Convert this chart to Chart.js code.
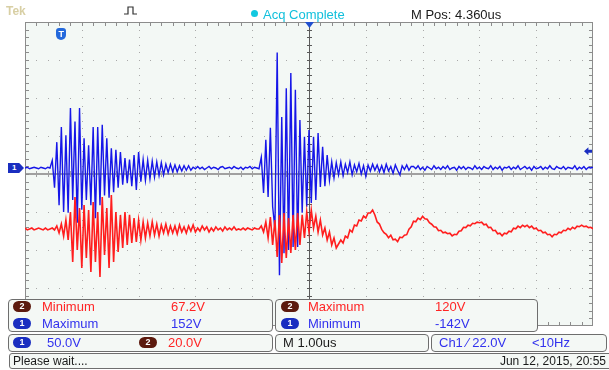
<!DOCTYPE html>
<html>
<head>
<meta charset="utf-8">
<script src="https://cdn.jsdelivr.net/npm/chart.js@4.4.1/dist/chart.umd.min.js"></script>
<style>
  html, body { margin: 0; padding: 0; background: #fff; }
  #scope { position: relative; width: 609px; height: 370px; overflow: hidden;
    font-family: "Liberation Sans", Arial, sans-serif; }
  #scope canvas { position: absolute; left: 0; top: 0; }
  .t { position: absolute; white-space: nowrap; line-height: 1; font-size: 13px; }
  .box { position: absolute; background: #f4f8f5; border: 1px solid #6e6e6e; border-radius: 4px; box-sizing: border-box; }
  .badge { position: absolute; width: 18px; height: 11px; border-radius: 6px; color: #fff;
    font: bold 9px/11px "Liberation Sans", Arial, sans-serif; text-align: center; }
  .c1 { background: #1a2ec0; }
  .c2 { background: #5c1a0e; }
  .red { color: #ff2424; }
  .blue { color: #3232ee; }
  .blk { color: #1a1a1a; }
  #trigMark { position: absolute; width: 10px; height: 12px; background: #2469dc; color: #fff;
    border-radius: 3px 3px 5px 5px; font: bold 9px/12px "Liberation Sans", Arial, sans-serif; text-align: center; }
  #ch1Gnd { position: absolute; width: 16px; height: 10px; background: #1a2ec0; color: #fff;
    clip-path: polygon(0 0, 70% 0, 100% 50%, 70% 100%, 0 100%);
    font: bold 8px/10px "Liberation Sans", Arial, sans-serif; text-indent: 4px; }
  #ch1Lvl { position: absolute; width: 8px; height: 8px; background: #1a2ec0;
    clip-path: polygon(0 50%, 55% 0, 55% 30%, 100% 30%, 100% 70%, 55% 70%, 55% 100%); }
  #expMark { position: absolute; left: 305px; top: 22px; width: 9px; height: 6px; background: #2050d0;
    clip-path: polygon(0 0, 100% 0, 50% 100%); }
</style>
</head>
<body>
<div id="scope">
  <canvas id="scopeCanvas" width="609" height="370"></canvas>

  <div class="t" style="left:6px;top:5px;color:#d8cfa4;font-weight:bold;font-size:12px;">Tek</div>
  <svg style="position:absolute;left:123px;top:4px" width="16" height="12">
    <polyline points="1,10 5,10 5,3 10,3 10,10 14,10" fill="none" stroke="#333" stroke-width="1.2"/>
  </svg>
  <div style="position:absolute;left:251px;top:10px;width:7px;height:7px;border-radius:50%;background:#12c8e0;"></div>
  <div class="t" style="left:263px;top:8px;color:#12c0dc;">Acq Complete</div>
  <div class="t blk" style="left:411px;top:8px;">M Pos: 4.360us</div>

  <div id="expMark"></div>
  <div id="trigMark">T</div>
  <div id="ch1Gnd">1</div>
  <div id="ch1Lvl"></div>

  <div class="box" style="left:8px;top:299px;width:265px;height:33px;"></div>
  <div class="box" style="left:275px;top:299px;width:263px;height:33px;"></div>
  <div class="badge c2" style="left:13px;top:301px;">2</div>
  <div class="t red" style="left:42px;top:300px;">Minimum</div>
  <div class="t red" style="left:171px;top:300px;">67.2V</div>
  <div class="badge c1" style="left:13px;top:318px;">1</div>
  <div class="t blue" style="left:42px;top:317px;">Maximum</div>
  <div class="t blue" style="left:171px;top:317px;">152V</div>
  <div class="badge c2" style="left:281px;top:301px;">2</div>
  <div class="t red" style="left:308px;top:300px;">Maximum</div>
  <div class="t red" style="left:435px;top:300px;">120V</div>
  <div class="badge c1" style="left:281px;top:318px;">1</div>
  <div class="t blue" style="left:308px;top:317px;">Minimum</div>
  <div class="t blue" style="left:435px;top:317px;">-142V</div>

  <div class="box" style="left:8px;top:334px;width:265px;height:18px;"></div>
  <div class="box" style="left:275px;top:334px;width:154px;height:18px;"></div>
  <div class="box" style="left:431px;top:334px;width:176px;height:18px;"></div>
  <div class="badge c1" style="left:13px;top:337px;">1</div>
  <div class="t blue" style="left:47px;top:336px;">50.0V</div>
  <div class="badge c2" style="left:139px;top:337px;">2</div>
  <div class="t red" style="left:168px;top:336px;">20.0V</div>
  <div class="t blk" style="left:283px;top:336px;">M 1.00us</div>
  <div class="t blue" style="left:439px;top:336px;">Ch1 &#8260; 22.0V</div>
  <div class="t blue" style="left:532px;top:336px;">&lt;10Hz</div>

  <div class="box" style="left:9px;top:353px;width:606px;height:16px;border-radius:3px;"></div>
  <div class="t blk" style="left:13px;top:355px;font-size:12px;">Please wait....</div>
  <div class="t blk" style="right:3px;top:355px;font-size:12px;">Jun 12, 2015, 20:55</div>
</div>

<script>
// sampling: one value every 0.04 us, first sample at -0.64 us (trigger = 0)
const sampleStartUs = -0.64;
const sampleStepUs = 0.04;

// channel 1, volts (50 V/div)
const ch1Volts = [
  0, 1, -1, 0, 1, 0, -1, 1, 0, -1, 1, 0,
  10, -26, 34, -49, 54, -58, 43, -59, 79, -42, 61, -72, 79, -55, 39, -42, 30, -49, 54, -66,
  54, -49, 57, -36, 39, -39, 26, -32, 24, -26, 21, -22, 13, -20, 11, -24, 17, -29, 21, -18,
  11, -16, 10, -14,
  9, -12, 8, -10, 7, -9, 5, -6, 5, -5, 4, -5, 3, -4, 3, -3, 3, -3, 1, -1,
  2, -1, 1, -2, 0, 2, -1, 1, 0, -2, 1, 2, -1, 0, 1, -1, 2, 0, -1, 1, -2, 1, 0, 2, -1, 1, 0, -1,
  14, -33, 37, -38, 53, -51, -80, 152, -141, 67, -112, 105, -108, 125, -104, 103, -104, 63,
  -59, 41, -51, 50, -46, 41, -42, 46, -25, 28, -24, 17, -16, 8, -13, 7, -9, 8, -10, 5, -6,
  8, -9, 4, -5, 6, -8, 3, -11, 4, -4, 5, -3, 4, -5,
  3, -6, 5, -4, 2, -7, 4, -3, -9, 3, -2, 4, -3, 2,
  2, -1, 3, -2, 1, -3, 2, 0, -2, 3, -1, 1, -2, 2, -1, 3, -2, 0, 1, -3,
  2, -1, 2, -2, 1, 0, -2, 3, -1, 1, -2, 2, 0, -1, 3, -2, 1, -1, 2, -3,
  1, 0, 2, -2, 1, -1, 3, -2, 0, 2, -1, 1, -3, 2, -1, 0, 2, -2, 1, -1,
  3, -1, -2, 2, 0, -1, 2, -2, 1, 0, -1, 3, -2, 1, -1, 2, -2, 1, 0, 1
];

// channel 2, volts (20 V/div)
const ch2Volts = [
  0.5, -0.5, 0, 0.5, -0.5, 0, 0.5, 0, -0.5, 0.5, -0.5, 0, 0.5, -0.5,
  1.6, -2.1, 2.6, -3.7, 4.7, -5.8, 8.9, -17.4, 16.8, -11, 11, -20.5, 12.6, -15.3, 10, -22.6,
  14.2, -17.4, 8.9, -25.2, 16.8, -13.7, 11, -20.5, 17.9, -17.4, 8.9, -12.1, 7.4, -10, 8.9, -8.4,
  7.4, -7.4, 5.8, -6.8, 4.7, -5.8, 3.7, -4.7, 3.2, -3.7, 3.7, -3.2, 2.6, -3.7, 2.1, -2.1,
  2.6, -2.6, 1.6, -2.1,
  1.6, -2.6, 2.1, -1.6, 1.1, -2.1, 1.6, -1.1, 2.1, -1.6, 0.5, -1.1, 1.6, -0.5, 1.1, -1.6,
  0.5, -1.1, 1.1, -0.5, 0.5, -1.1, 1.1, -0.5, 0.5, -0.5, 1.1, -0.5, 0, -0.5, 0.5, -0.5,
  0.5, 0, -0.5, 0.5, 0,
  0, 1.6, -1.6, 3.7, -4.7, 6.3, -8.4, 4.7, -14.7, 7.4, -17.9, 8.4, -15.3, 5.8, -12.6, 7.4,
  -11, 8.4, -8.4, 7.4, -4.7, 8.9, -1.6, 10, 0.5, 6.8, -1.6, 4.7, -3.2, 0.5, -5.8, -1.6,
  -8.4, -4.7, -10, -7.9, -5.8, -7.4, -3.7, -4.7, -0.5, -1.6, 2.1, 1.6, 4.7, 4.2, 6.8, 5.8,
  8.4, 8.4, 10, 7.4, 3.7, 2.6,
  -0.2, -1.9, -2.8, -4.6, -3.3, -5.7, -5.4, -6.7, -4.3, -4.6,
  -3.3, -3.0, -0.1, 1.2, 4.1, 3.8, 5.7, 4.9, 6.7, 5.4,
  5.1, 3.3, 2.5, 1.2, 0.9, -0.9, -0.7, -2.0, -1.7, -2.5,
  -2.2, -3.6, -2.8, -3.0, -1.2, -0.9, 0.9, 0.7, 2.0, 1.7,
  3.0, 2.8, 3.6, 3.3, 3.6, 2.2, 2.5, 0.7, 0.9, -0.9,
  -0.7, -2.5, -2.2, -3.6, -2.2, -2.5, -1.2, -1.5, 0.4, 0.1,
  1.5, 0.7, 2.0, 1.2, 2.0, 0.7, 1.5, 0.1, 0.4, -0.9,
  -0.7, -2.0, -1.7, -3.0, -2.8, -4.1, -2.8, -3.0, -1.7, -2.0,
  -0.7, -0.9, 0.4, -0.4, 0.9, 0.1, 1.5, 1.2, 2.0, 1.2,
  1.5, 0.7, 0.9, 0.1
];

// vertical settings: volts per division and ground offset from centre (divisions)
const ch1VoltsPerDiv = 50, ch1OffsetDiv = 0.158;
const ch2VoltsPerDiv = 20, ch2OffsetDiv = -1.447;
const ch1TriggerVolts = 22;
const horizontalPosUs = 4.36, usPerDiv = 1;

function toPoints(values) {
  return values.map(function (v, i) {
    return { x: sampleStartUs + i * sampleStepUs, y: v };
  });
}

var graticule = {
  id: 'graticule',
  beforeDatasetsDraw: function (chart) {
    var ctx = chart.ctx, a = chart.chartArea;
    var w = a.right - a.left, h = a.bottom - a.top;
    var dx = w / 10, dy = h / 8;
    ctx.save();
    ctx.fillStyle = '#f3f8f5';
    ctx.fillRect(a.left, a.top, w, h);

    ctx.fillStyle = '#a9a9a9';
    for (var k = 1; k < 10; k++) {
      if (k === 5) continue;
      var gx = Math.round(a.left + k * dx);
      for (var j = 1; j < 40; j++) ctx.fillRect(gx, Math.round(a.top + j * dy / 5), 1, 1);
    }
    for (var k2 = 1; k2 < 8; k2++) {
      if (k2 === 4) continue;
      var gy = Math.round(a.top + k2 * dy);
      for (var j2 = 1; j2 < 50; j2++) ctx.fillRect(Math.round(a.left + j2 * dx / 5), gy, 1, 1);
    }

    var cx = Math.round(a.left + 5 * dx), cy = Math.round(a.top + 4 * dy);
    ctx.fillStyle = '#a0a0a0';
    ctx.fillRect(a.left, cy - 1, w, 2);
    for (var m = 1; m < 50; m++) ctx.fillRect(Math.round(a.left + m * dx / 5), cy - 3, 1, 6);
    ctx.fillStyle = '#5a5a5a';
    ctx.fillRect(cx, a.top, 1, h);
    for (var n = 1; n < 40; n++) ctx.fillRect(cx - 2, Math.round(a.top + n * dy / 5), 5, 1);

    ctx.fillStyle = '#8c8c8c';
    ctx.fillRect(a.left, a.top, w, 1);
    ctx.fillRect(a.left, a.bottom - 1, w, 1);
    ctx.fillRect(a.left, a.top, 1, h);
    ctx.fillRect(a.right - 1, a.top, 1, h);
    for (var p = 1; p < 50; p++) {
      var tx = Math.round(a.left + p * dx / 5);
      ctx.fillRect(tx, a.top, 1, 4);
      ctx.fillRect(tx, a.bottom - 4, 1, 4);
    }
    for (var q = 1; q < 40; q++) {
      var ty = Math.round(a.top + q * dy / 5);
      ctx.fillRect(a.left, ty, 4, 1);
      ctx.fillRect(a.right - 4, ty, 4, 1);
    }
    ctx.restore();
  }
};

var chart = new Chart(document.getElementById('scopeCanvas'), {
  type: 'line',
  data: {
    datasets: [{
      label: 'Ch2',
      data: toPoints(ch2Volts),
      yAxisID: 'y2',
      borderColor: '#ff1e1e',
      borderWidth: 1.6,
      order: 0
    }, {
      label: 'Ch1',
      data: toPoints(ch1Volts),
      yAxisID: 'y1',
      borderColor: '#1616e8',
      borderWidth: 1.4,
      order: 1
    }]
  },
  options: {
    responsive: false,
    animation: false,
    layout: { padding: { left: 25, top: 22, right: 16, bottom: 44 } },
    elements: {
      point: { radius: 0 },
      line: { tension: 0 }
    },
    scales: {
      x: {
        type: 'linear', display: false,
        min: horizontalPosUs - 5 * usPerDiv, max: horizontalPosUs + 5 * usPerDiv
      },
      y1: {
        type: 'linear', display: false,
        min: (-4 - ch1OffsetDiv) * ch1VoltsPerDiv, max: (4 - ch1OffsetDiv) * ch1VoltsPerDiv
      },
      y2: {
        type: 'linear', display: false,
        min: (-4 - ch2OffsetDiv) * ch2VoltsPerDiv, max: (4 - ch2OffsetDiv) * ch2VoltsPerDiv
      }
    },
    plugins: { legend: { display: false }, tooltip: { enabled: false } }
  },
  plugins: [graticule]
});

// markers follow the scales
var xs = chart.scales.x, y1 = chart.scales.y1;
document.getElementById('trigMark').style.left = (xs.getPixelForValue(0) - 5) + 'px';
document.getElementById('trigMark').style.top = '28px';
document.getElementById('ch1Gnd').style.left = '8px';
document.getElementById('ch1Gnd').style.top = (y1.getPixelForValue(0) - 5) + 'px';
document.getElementById('ch1Lvl').style.left = (chart.chartArea.right - 9) + 'px';
document.getElementById('ch1Lvl').style.top = (y1.getPixelForValue(ch1TriggerVolts) - 4) + 'px';
</script>
</body>
</html>
